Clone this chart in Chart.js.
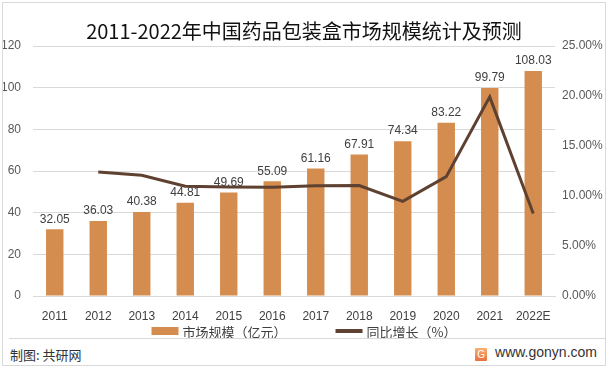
<!DOCTYPE html>
<html>
<head>
<meta charset="utf-8">
<script src="https://cdn.jsdelivr.net/npm/chart.js@4/dist/chart.umd.min.js"></script>
<style>
  body { margin: 0; background: #fff; font-family: "Noto Sans CJK SC", "Noto Sans", sans-serif; }
  #frame { position: absolute; left: 2px; top: 2px; width: 602px; height: 362px; border: 1px solid #d9d9d9; }
  #box { position: absolute; left: 0; top: 0; width: 602px; height: 336px; }
  #sep { position: absolute; left: 6px; top: 335px; width: 596px; border-top: 1px solid #d9d9d9; }
  #src { position: absolute; left: 7px; top: 342px; font-size: 13px; color: #333; }
  #site { position: absolute; right: 8px; top: 341px; font-size: 14px; color: #333; font-family: "Liberation Sans", sans-serif; }
  #logo { display: inline-block; width: 12px; height: 13px; background: linear-gradient(#f6b073, #e8703a); color: #fff; font-size: 10px; text-align: center; line-height: 13px; margin-right: 8px; vertical-align: -1px; border-radius: 1px; }
</style>
</head>
<body>
<div id="frame">
  <div id="box"><canvas id="chart"></canvas></div>
  <div id="sep"></div>
  <div id="src">制图: 共研网</div>
  <div id="site"><span id="logo">G</span>www.gonyn.com</div>
</div>
<script>
// 数据
const anios = ["2011", "2012", "2013", "2014", "2015", "2016", "2017", "2018", "2019", "2020", "2021", "2022E"];
const mercado = [32.05, 36.03, 40.38, 44.81, 49.69, 55.09, 61.16, 67.91, 74.34, 83.22, 99.79, 108.03];
const crecimiento = [null, 0.124, 0.1207, 0.1097, 0.1089, 0.1087, 0.1102, 0.1104, 0.0947, 0.1194, 0.1991, 0.0826];

const colorBarra = "#d48d4e";
const colorLinea = "#5e4130";

// Etiquetas encima de las barras
const etiquetas = {
  id: "etiquetas",
  afterDatasetsDraw(chart) {
    const ctx = chart.ctx;
    const meta = chart.getDatasetMeta(0);
    ctx.save();
    ctx.font = "12px 'Liberation Sans', sans-serif";
    ctx.fillStyle = "#404040";
    ctx.textAlign = "center";
    ctx.textBaseline = "bottom";
    meta.data.forEach((bar, i) => {
      ctx.fillText(mercado[i].toFixed(2), bar.x, bar.y - 4);
    });
    ctx.restore();
  }
};

// Leyenda dibujada debajo del eje x
const leyenda = {
  id: "leyenda",
  afterDraw(chart) {
    const ctx = chart.ctx;
    const sets = chart.data.datasets;
    const caja = 27, hueco = 4, sep = 49;
    ctx.save();
    ctx.font = "13px 'Noto Sans CJK SC', sans-serif";
    ctx.textBaseline = "middle";
    const anchos = sets.map(d => caja + hueco + ctx.measureText(d.label).width);
    const total = anchos.reduce((a, b) => a + b, 0) + sep * (sets.length - 1);
    let x = (chart.width - total) / 2;
    const y = chart.chartArea.bottom + 35;
    sets.forEach((d, i) => {
      ctx.fillStyle = d.type === "line" ? d.borderColor : d.backgroundColor;
      if (d.type === "line") ctx.fillRect(x, y - 2, caja, 4);
      else ctx.fillRect(x, y - 4, caja, 8);
      ctx.fillStyle = "#404040";
      ctx.fillText(d.label, x + caja + hueco, y + 1);
      x += anchos[i] + sep;
    });
    ctx.restore();
  }
};

const tickFont = { family: "'Liberation Sans', sans-serif", size: 12 };

new Chart(document.getElementById("chart").getContext("2d"), {
  type: "bar",
  data: {
    labels: anios,
    datasets: [
      {
        label: "市场规模（亿元）",
        data: mercado,
        backgroundColor: colorBarra,
        barPercentage: 0.4,
        categoryPercentage: 1,
        yAxisID: "y",
        order: 2
      },
      {
        type: "line",
        label: "同比增长（%）",
        data: crecimiento,
        borderColor: colorLinea,
        backgroundColor: colorLinea,
        borderWidth: 3,
        pointRadius: 0,
        tension: 0,
        yAxisID: "y1",
        order: 1
      }
    ]
  },
  options: {
    responsive: true,
    maintainAspectRatio: false,
    animation: false,
    layout: { padding: { left: 0, right: 0, top: 0, bottom: 13 } },
    plugins: {
      title: {
        display: true,
        text: "2011-2022年中国药品包装盒市场规模统计及预测",
        color: "#111",
        font: { family: "'Noto Sans CJK SC', sans-serif", size: 20, weight: "normal" },
        padding: { top: 16, bottom: 3 }
      },
      legend: { display: false },
      tooltip: { enabled: false }
    },
    scales: {
      x: {
        grid: { display: false },
        border: { color: "#d9d9d9" },
        ticks: { color: "#404040", font: tickFont, padding: 5 },
        afterFit: s => { s.height = 30; }
      },
      y: {
        min: 0,
        max: 120,
        ticks: { stepSize: 20, color: "#595959", font: tickFont, padding: 12 },
        grid: { color: "#d9d9d9", drawTicks: false },
        border: { display: false },
        afterFit: s => { s.width = 30; }
      },
      y1: {
        position: "right",
        min: 0,
        max: 0.25,
        ticks: {
          stepSize: 0.05,
          color: "#595959",
          font: tickFont,
          padding: 7,
          callback: v => (v * 100).toFixed(2) + "%"
        },
        grid: { display: false, drawTicks: false },
        border: { display: false },
        afterFit: s => { s.width = 50; }
      }
    }
  },
  plugins: [etiquetas, leyenda]
});
</script>
</body>
</html>
